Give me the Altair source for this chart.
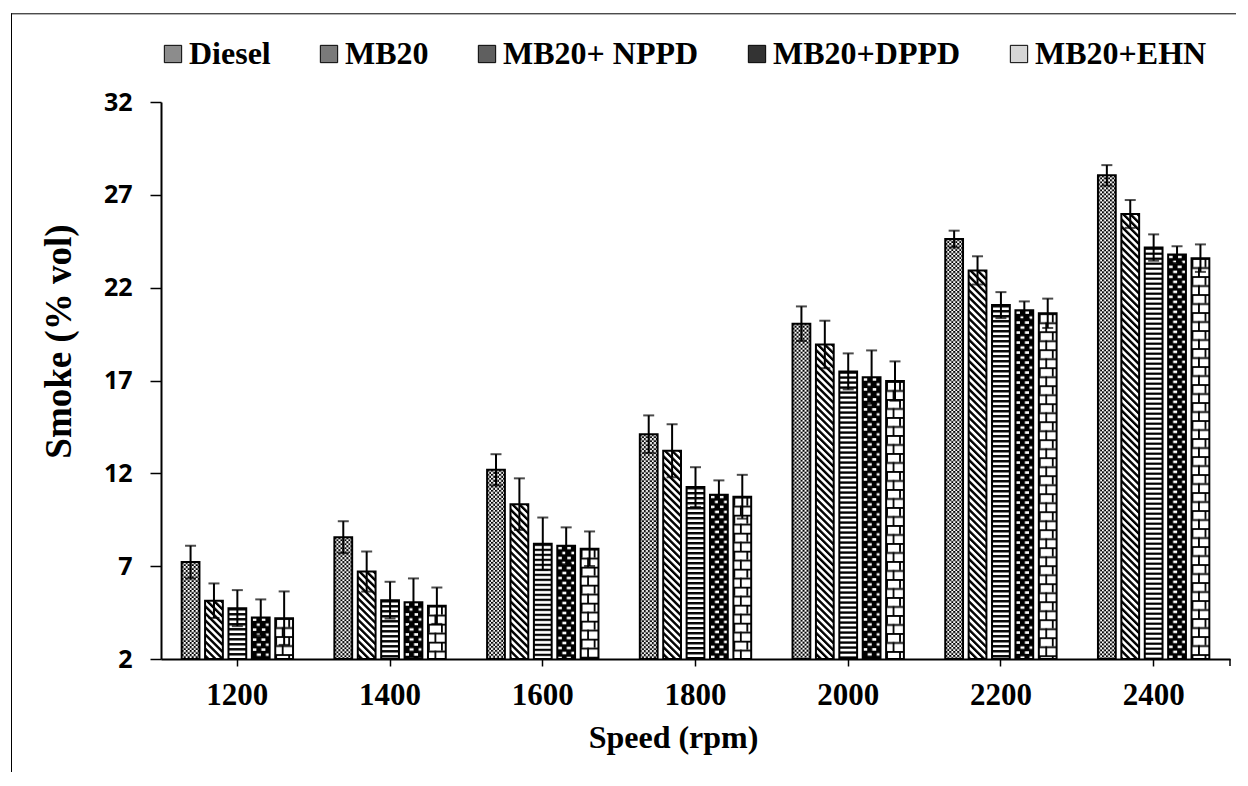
import altair as alt
import pandas as pd
from urllib.parse import quote

# ---------------- data ----------------
speeds = ["1200", "1400", "1600", "1800", "2000", "2200", "2400"]
series = ["Diesel", "MB20", "MB20+ NPPD", "MB20+DPPD", "MB20+EHN"]

diesel = [7.22, 8.56, 12.19, 14.11, 20.06, 24.62, 28.05]
mb20 = [5.14, 6.71, 10.34, 13.22, 18.94, 22.93, 25.97]
nppd = [4.74, 5.17, 8.21, 11.26, 17.49, 21.06, 24.16]
dppd = [4.24, 5.06, 8.10, 10.85, 17.18, 20.78, 23.78]
ehn = [4.20, 4.87, 7.94, 10.74, 16.97, 20.62, 23.59]

diesel_err = [0.88, 0.86, 0.84, 1.01, 0.93, 0.45, 0.55]
mb20_err = [0.93, 1.08, 1.39, 1.43, 1.28, 0.76, 0.75]
nppd_err = [0.97, 0.99, 1.41, 1.07, 0.97, 0.70, 0.71]
dppd_err = [0.97, 1.28, 0.99, 0.77, 1.44, 0.48, 0.45]
ehn_err = [1.44, 0.98, 0.93, 1.18, 1.06, 0.79, 0.74]

y_ticks = [2, 7, 12, 17, 22, 27, 32]

# ---------------- styles ----------------
legend_grays = ["#8c8c8c", "#7a7a7a", "#5f5f5f", "#333333", "#d6d6d6"]

PATTERNS = {
    "Diesel": ("<rect width='4' height='4' fill='white'/>"
               "<rect width='2' height='2' fill='black'/>"
               "<rect x='2' y='2' width='2' height='2' fill='black'/>", 4, 4, ""),
    "MB20": ("<rect width='5' height='5' fill='white'/>"
             "<rect width='2.4' height='5' fill='black'/>", 5, 5, "rotate(-45)"),
    "MB20+ NPPD": ("<rect width='5' height='5' fill='white'/>"
                   "<rect width='5' height='2.3' fill='black'/>", 5, 5, ""),
    "MB20+DPPD": ("<rect width='9' height='10' fill='black'/>"
                  "<rect x='0.5' y='1' width='4' height='2.5' fill='white'/>"
                  "<rect x='5' y='6' width='4' height='2.5' fill='white'/>", 9, 10, ""),
    "MB20+EHN": ("<rect width='13' height='18' fill='white'/>"
                 "<rect width='13' height='1.8' fill='black'/>"
                 "<rect y='9' width='13' height='1.8' fill='black'/>"
                 "<rect x='0' y='0' width='1.8' height='9' fill='black'/>"
                 "<rect x='6.5' y='9' width='1.8' height='9' fill='black'/>", 13, 18, ""),
}


def pattern_uri(name):
    body, w, h, tr = PATTERNS[name]
    trattr = f" patternTransform='{tr}'" if tr else ""
    svg = ("<svg xmlns='http://www.w3.org/2000/svg' width='100%' height='100%'>"
           f"<defs><pattern id='p' patternUnits='userSpaceOnUse' width='{w}' height='{h}'{trattr}>"
           f"{body}</pattern></defs>"
           "<rect width='100%' height='100%' fill='url(#p)'/></svg>")
    return "data:image/svg+xml;charset=utf-8," + quote(svg)


values = [diesel, mb20, nppd, dppd, ehn]
errors = [diesel_err, mb20_err, nppd_err, dppd_err, ehn_err]

rows = []
for s, vals, errs in zip(series, values, errors):
    for sp, v, e in zip(speeds, vals, errs):
        rows.append({"speed": sp, "series": s, "value": v,
                     "lo": v - e, "hi": v + e, "pat": pattern_uri(s)})
df = pd.DataFrame(rows)

W, H = 1069, 557

x_enc = alt.X("speed:N", sort=speeds,
              scale=alt.Scale(paddingInner=0.234, paddingOuter=0.117),
              axis=alt.Axis(labelAngle=0, tickSize=7, tickWidth=1.5, tickColor="black",
                            domainColor="black", domainWidth=2,
                            labelFont="Liberation Serif", labelFontSize=31,
                            labelFontWeight="bold", labelColor="black", labelPadding=14,
                            title="Speed (rpm)", titleFont="Liberation Serif",
                            titleFontSize=32, titleFontWeight="bold", titleColor="black",
                            titleX=512, titleY=88, titleAlign="center",
                            titleBaseline="alphabetic"))
xo_enc = alt.XOffset("series:N", sort=series,
                     scale=alt.Scale(paddingInner=0.24, paddingOuter=0.12))
y_scale = alt.Scale(domain=[2, 32], nice=False, zero=False)
y_axis = alt.Axis(values=y_ticks, grid=False, tickSize=11, tickWidth=1.5,
                  tickColor="black", domainColor="black", domainWidth=2,
                  labelFont="Open Sans", labelFontSize=25, labelFontWeight="bold",
                  labelColor="black", labelPadding=18,
                  title="Smoke (% vol)", titleFont="Liberation Serif", titleFontSize=37,
                  titleFontWeight="bold", titleColor="black", titleAngle=270,
                  titleX=-102, titleY=239, titleAlign="center", titleBaseline="middle")

base = alt.Chart(df)

fill_bars = base.mark_bar(strokeWidth=0).encode(
    x=x_enc, xOffset=xo_enc,
    y=alt.Y("value:Q", scale=y_scale, axis=y_axis),
    y2=alt.datum(2),
    fill=alt.Fill("series:N", sort=series,
                  scale=alt.Scale(domain=series, range=legend_grays),
                  legend=alt.Legend(orient="none", legendX=-4, legendY=-64,
                                    direction="horizontal", title=None,
                                    labelFont="Liberation Serif", labelFontSize=32,
                                    labelFontWeight="bold", labelColor="black",
                                    labelLimit=400, symbolType="square",
                                    symbolSize=300, symbolStrokeColor="black",
                                    symbolStrokeWidth=1, columnPadding=42,
                                    labelOffset=0)),
)

pattern_imgs = base.mark_image(aspect=False).encode(
    x=x_enc, xOffset=xo_enc,
    y=alt.Y("value:Q", scale=y_scale),
    y2=alt.datum(2),
    url=alt.Url("pat:N"),
)

outline = base.mark_bar(filled=False, stroke="black", strokeWidth=2).encode(
    x=x_enc, xOffset=xo_enc,
    y=alt.Y("value:Q", scale=y_scale),
    y2=alt.datum(2),
)

err_rule = base.mark_rule(color="black", strokeWidth=2).encode(
    x=x_enc, xOffset=xo_enc,
    y=alt.Y("lo:Q", scale=y_scale),
    y2="hi:Q",
)
cap_hi = base.mark_tick(color="black", thickness=2, size=11).encode(
    x=x_enc, xOffset=xo_enc, y=alt.Y("hi:Q", scale=y_scale))
cap_lo = base.mark_tick(color="black", thickness=2, size=11).encode(
    x=x_enc, xOffset=xo_enc, y=alt.Y("lo:Q", scale=y_scale))

frame_data = alt.Data(values=[{"k": 1}])
frame_top = alt.Chart(frame_data).mark_rule(color="black", strokeWidth=1).encode(
    x=alt.value(-150), x2=alt.value(1075), y=alt.value(-88.2))
frame_left = alt.Chart(frame_data).mark_rule(color="black", strokeWidth=1).encode(
    x=alt.value(-149.5), y=alt.value(-88.7), y2=alt.value(670))
end_tick = alt.Chart(frame_data).mark_rule(color="black", strokeWidth=1.5).encode(
    x=alt.value(W), y=alt.value(H), y2=alt.value(H + 7))

chart = alt.layer(
    fill_bars, pattern_imgs, outline, err_rule, cap_hi, cap_lo,
    frame_top, frame_left, end_tick
).properties(
    width=W, height=H,
    padding={"left": 2, "top": 4, "right": 0, "bottom": 0},
    background="white",
).configure_view(strokeWidth=0)

chart.save("out.html", embed_options={"renderer": "svg", "actions": False})
